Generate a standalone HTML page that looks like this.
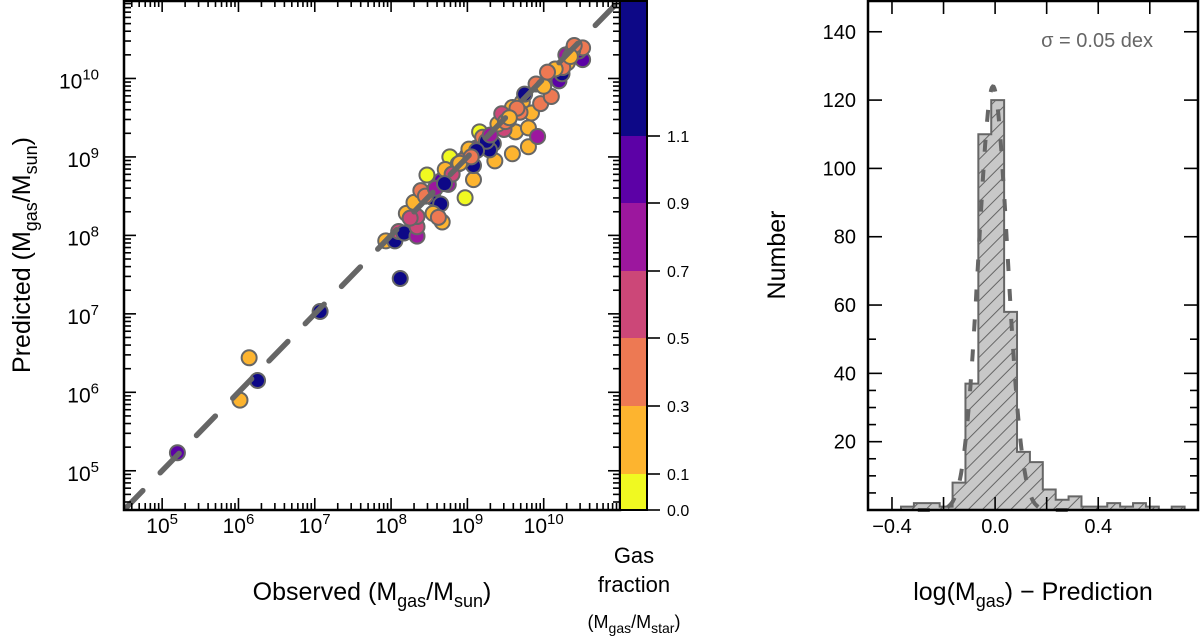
<!DOCTYPE html>
<html><head><meta charset="utf-8"><style>
body{margin:0;background:#fff}
svg{display:block;font-family:"Liberation Sans",sans-serif}
</style></head><body>
<svg id="chart" width="1200" height="641" viewBox="0 0 1200 641">
<defs>
<pattern id="hatch" patternUnits="userSpaceOnUse" width="10" height="10" patternTransform="rotate(-45)">
<rect width="10" height="10" fill="#c8c8c8"/><line x1="0" y1="5" x2="10" y2="5" stroke="#666" stroke-width="1"/>
</pattern>
<clipPath id="clipL"><rect x="124" y="0" width="496" height="510"/></clipPath>
</defs>
<g id="left"></g>
<g id="cbar"></g>
<g id="right"></g>
</svg>
<script>
// scatter data (log10 values) and gas fraction colours
const obsLog=[5.20,6.02,6.14,6.25,7.07,8.12,7.93,8.05,8.10,8.17,8.34,8.34,8.20,8.34,8.30,8.39,8.47,8.55,8.65,8.55,8.67,8.62,8.66,8.75,8.77,8.71,8.88,8.97,9.08,9.00,9.11,9.16,9.08,9.34,9.36,9.29,9.59,9.63,9.80,9.80,9.92,9.54,9.48,9.58,9.59,9.72,9.84,9.90,9.96,10.10,10.07,10.20,10.24,10.31,10.29,10.25,10.51,10.46,10.51,10.38,9.20,8.93,9.40,9.69,10.00,10.15,9.02,9.45,9.25,8.45,8.80,9.65,10.40,8.58,9.12,8.25,8.90,9.30,9.50,9.75,10.05,10.35,8.70,9.05,9.55];
const predLog=[5.23,5.90,6.44,6.15,7.03,7.45,7.93,7.93,8.05,8.03,7.99,8.11,8.28,8.24,8.42,8.57,8.77,8.48,8.40,8.28,8.17,8.23,8.70,8.65,9.00,8.84,8.91,8.48,8.71,9.02,9.11,9.32,8.89,9.17,8.95,9.09,9.04,9.32,9.13,9.37,9.26,9.47,9.35,9.57,9.63,9.70,9.56,9.93,9.68,9.77,10.02,9.97,10.06,10.20,10.30,10.14,10.24,10.35,10.39,10.36,9.25,8.95,9.42,9.57,9.90,10.12,9.10,9.55,9.20,8.50,8.78,9.62,10.42,8.60,9.08,8.22,8.92,9.28,9.45,9.80,10.08,10.28,8.66,9.00,9.50];
const gasFrac=[1.0,0.2,0.2,1.2,1.2,1.2,0.2,1.2,0.6,1.2,0.8,0.6,0.2,0.6,0.2,0.4,0.05,1.2,1.2,0.2,0.2,0.4,1.0,0.8,0.05,0.2,0.4,0.05,0.2,0.6,0.8,0.05,1.2,1.2,0.2,1.2,0.2,0.2,0.2,0.2,0.8,0.8,0.6,1.2,0.2,0.2,0.2,0.4,0.4,0.4,0.6,1.0,1.2,0.2,0.8,0.4,1.0,1.0,0.4,0.2,0.4,0.4,0.2,0.4,0.2,0.2,0.2,0.6,1.2,0.4,0.6,0.4,0.4,0.8,1.2,0.6,0.2,0.8,0.4,1.2,0.4,0.2,1.2,0.4,0.2];
const cbarBounds=[0.0,0.1,0.3,0.5,0.7,0.9,1.1,1.5];
const cbarColors=["#f0f921","#fdb42f","#ed7953","#cc4778","#9c179e","#5c01a6","#0d0887"];
const cbarTicks=["0.0","0.1","0.3","0.5","0.7","0.9","1.1"];
const logTicks=[5,6,7,8,9,10];
// histogram data
const binEdges=[-0.365,-0.315,-0.265,-0.215,-0.165,-0.115,-0.065,-0.015,0.035,0.085,0.135,0.185,0.235,0.285,0.335,0.385,0.435,0.485,0.535,0.585,0.635,0.685,0.735];
const binCounts=[1,2,2,1,8,37,110,120,58,17,14,6,3,4,1,1,2,1,2,1,0,1];
const histYTicks=[20,40,60,80,100,120,140];
const histXTicks=[-0.4,0.0,0.4];
const histXTickLabels=["\u22120.4","0.0","0.4"];
const gaussParams=[124,-0.008,0.056]; // amplitude, mean, sigma

const NS="http://www.w3.org/2000/svg";
function mk(tag,attrs,parent,text){const e=document.createElementNS(NS,tag);for(const k in attrs)e.setAttribute(k,attrs[k]);if(text!==undefined)e.textContent=text;parent.appendChild(e);return e;}
const L=document.getElementById('left'),C=document.getElementById('cbar'),R=document.getElementById('right');
const lx0=124,lx1=620,ly0=0,ly1=510,lmin=4.5,lmax=11;
const sx=v=>lx0+(v-lmin)/(lmax-lmin)*(lx1-lx0);
const sy=v=>ly1-(v-lmin)/(lmax-lmin)*(ly1-ly0);
const pts=mk('g',{'clip-path':'url(#clipL)'},L);


function colorFor(v){for(let i=0;i<cbarColors.length;i++){if(v<cbarBounds[i+1])return cbarColors[i];}return cbarColors[cbarColors.length-1];}
for(let i=0;i<obsLog.length;i++){
 const c=mk('circle',{cx:sx(obsLog[i]),cy:sy(predLog[i]),r:7.5,fill:colorFor(gasFrac[i]),stroke:'#666','stroke-width':2},pts);
 
 
}
const ln=mk('line',{x1:sx(lmin),y1:sy(lmin),x2:sx(lmax),y2:sy(lmax),stroke:'#666','stroke-width':5.5,'stroke-dasharray':'27 25','stroke-linecap':'round'},pts);


const tk=mk('g',{stroke:'#000','stroke-width':1.6},L);
for(let d=4;d<=11;d++){for(let m=1;m<10;m++){const v=d+Math.log10(m);if(v<lmin||v>lmax)continue;const len=m==1?12:7;
 const x=sx(v),y=sy(v);
 mk('line',{x1:x,y1:ly1,x2:x,y2:ly1-len},tk);mk('line',{x1:x,y1:ly0,x2:x,y2:ly0+len},tk);
 mk('line',{x1:lx0,y1:y,x2:lx0+len,y2:y},tk);mk('line',{x1:lx1,y1:y,x2:lx1-len,y2:y},tk);}}
const fr=mk('rect',{x:lx0,y:ly0+1,width:lx1-lx0,height:ly1-ly0-1,fill:'none',stroke:'#000','stroke-width':2.5},L);


logTicks.forEach(d=>{
 const t=mk('text',{x:sx(d),y:533,'text-anchor':'middle','font-size':21},L);
 
 
 t.innerHTML='10<tspan dy="-9" font-size="15">'+d+'</tspan>';
 const u=mk('text',{x:99,y:sy(d)+10,'text-anchor':'end','font-size':21},L);
 
 
 u.innerHTML='10<tspan dy="-9" font-size="15">'+d+'</tspan>';
});
let t=mk('text',{x:372,y:600,'text-anchor':'middle','font-size':25},L);


t.innerHTML='Observed (M<tspan dy="7" font-size="18">gas</tspan><tspan dy="-7">/M</tspan><tspan dy="7" font-size="18">sun</tspan><tspan dy="-7">)</tspan>';
t=mk('text',{x:0,y:0,'text-anchor':'middle','font-size':25,transform:'translate(30,255) rotate(-90)'},L);


t.innerHTML='Predicted (M<tspan dy="7" font-size="18">gas</tspan><tspan dy="-7">/M</tspan><tspan dy="7" font-size="18">sun</tspan><tspan dy="-7">)</tspan>';
const cbPos=[510,474,406,338,271,203,136,0];
for(let i=0;i<cbarColors.length;i++){
 const r=mk('rect',{x:620,y:cbPos[i+1],width:27,height:cbPos[i]-cbPos[i+1],fill:cbarColors[i]},C);
 
 
}
mk('rect',{x:620,y:1,width:27,height:509,fill:'none',stroke:'#000','stroke-width':2},C);
cbarTicks.forEach((s,i)=>{
 mk('line',{x1:647,y1:cbPos[i],x2:660,y2:cbPos[i],stroke:'#000','stroke-width':1.6},C);
 const q=mk('text',{x:667,y:cbPos[i]+6,'font-size':16},C,s);
 
 
});
[['Gas',563,22],['fraction',592,22]].forEach(a=>{const q=mk('text',{x:634,y:a[1],'text-anchor':'middle','font-size':a[2]},C,a[0]);});
t=mk('text',{x:634,y:628,'text-anchor':'middle','font-size':18},C);


t.innerHTML='(M<tspan dy="5" font-size="14">gas</tspan><tspan dy="-5">/M</tspan><tspan dy="5" font-size="14">star</tspan><tspan dy="-5">)</tspan>';
const hx0=868,hx1=1198,hy0=0,hy1=510,xmin=-0.493,xmax=0.787,ymax=149.3;
const hx=v=>hx0+(v-xmin)/(xmax-xmin)*(hx1-hx0);
const hy=v=>hy1-v/ymax*(hy1-hy0);
let d='M'+hx(binEdges[0])+','+hy(0);
for(let i=0;i<binCounts.length;i++){d+=' L'+hx(binEdges[i])+','+hy(binCounts[i])+' L'+hx(binEdges[i+1])+','+hy(binCounts[i]);}
d+=' L'+hx(binEdges[binCounts.length])+','+hy(0)+' Z';
const hp=mk('path',{d:d,fill:'url(#hatch)',stroke:'#666','stroke-width':2},R);


let gd='';
for(let k=0;k<=200;k++){const v=-0.3+k*0.003;const yv=gaussParams[0]*Math.exp(-0.5*Math.pow((v-gaussParams[1])/gaussParams[2],2));gd+=(k?' L':'M')+hx(v).toFixed(1)+','+hy(yv).toFixed(1);}
const gp=mk('path',{d:gd,fill:'none',stroke:'#666','stroke-width':4,'stroke-dasharray':'12 18'},R);


const htk=mk('g',{stroke:'#000','stroke-width':1.6},R);
histYTicks.forEach(v=>{mk('line',{x1:hx0,y1:hy(v),x2:hx0+14,y2:hy(v)},htk);mk('line',{x1:hx1,y1:hy(v),x2:hx1-14,y2:hy(v)},htk);
 const q=mk('text',{x:856,y:hy(v)+7,'text-anchor':'end','font-size':20,stroke:'none'},R,String(v));
 
 });
[5,10,15,25,30,35,50].forEach(v=>{mk('line',{x1:hx0,y1:hy(v),x2:hx0+8,y2:hy(v)},htk);mk('line',{x1:hx1,y1:hy(v),x2:hx1-8,y2:hy(v)},htk);});
[-0.4,-0.2,0,0.2,0.4,0.6].forEach(v=>{mk('line',{x1:hx(v),y1:hy1,x2:hx(v),y2:hy1-13},htk);mk('line',{x1:hx(v),y1:hy0,x2:hx(v),y2:hy0+14},htk);});
histXTicks.forEach((v,i)=>{const q=mk('text',{x:hx(v),y:533,'text-anchor':'middle','font-size':20},R,histXTickLabels[i]);});
const hf=mk('rect',{x:hx0,y:1,width:hx1-hx0,height:509,fill:'none',stroke:'#000','stroke-width':2.5},R);


t=mk('text',{x:1033,y:600,'text-anchor':'middle','font-size':25},R,'log(M');


t.innerHTML='log(M<tspan dy="7" font-size="18">gas</tspan><tspan dy="-7">) \u2212 Prediction</tspan>';
t=mk('text',{x:0,y:0,'text-anchor':'middle','font-size':25,transform:'translate(785,255) rotate(-90)'},R,'Number');


t=mk('text',{x:1153,y:47,'text-anchor':'end','font-size':20,fill:'#666'},R,'\u03c3 =  0.05 dex');


</script>
</body></html>
